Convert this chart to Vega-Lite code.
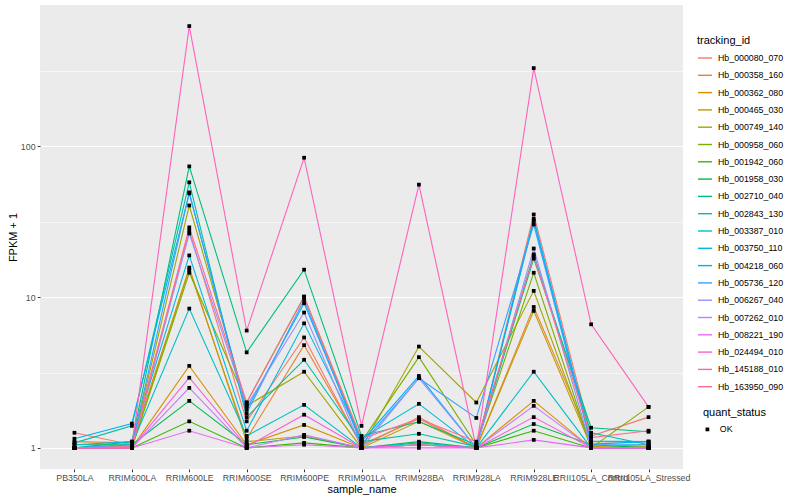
{
  "$schema": "https://vega.github.io/schema/vega-lite/v6.json",
  "autosize": {"type": "none"},
  "padding": {"left": 40, "top": 5, "right": 117, "bottom": 31},
  "width": 643,
  "height": 464,
  "background": "white",
  "config": {
    "font": "Liberation Sans",
    "view": {"fill": "#EBEBEB", "stroke": null},
    "axis": {
      "domain": false,
      "gridColor": "white",
      "labelFontSize": 8.8,
      "labelColor": "#4D4D4D",
      "tickColor": "#333333",
      "tickSize": 2.75,
      "labelPadding": 2.2,
      "titleFontSize": 11,
      "titleFontWeight": "normal",
      "titleColor": "black"
    },
    "legend": {
      "titleFontSize": 11,
      "titleFontWeight": "normal",
      "titleColor": "black",
      "labelFontSize": 8.8,
      "labelColor": "black"
    }
  },
  "data": {
    "values": [
      {"tracking_id": "Hb_000080_070", "sample_name": "PB350LA", "fpkm": 1.26, "quant_status": "OK"},
      {"tracking_id": "Hb_000080_070", "sample_name": "RRIM600LA", "fpkm": 1.05, "quant_status": "OK"},
      {"tracking_id": "Hb_000080_070", "sample_name": "RRIM600LE", "fpkm": 27.7, "quant_status": "OK"},
      {"tracking_id": "Hb_000080_070", "sample_name": "RRIM600SE", "fpkm": 1.5, "quant_status": "OK"},
      {"tracking_id": "Hb_000080_070", "sample_name": "RRIM600PE", "fpkm": 5.4, "quant_status": "OK"},
      {"tracking_id": "Hb_000080_070", "sample_name": "RRIM901LA", "fpkm": 1.02, "quant_status": "OK"},
      {"tracking_id": "Hb_000080_070", "sample_name": "RRIM928BA", "fpkm": 1.6, "quant_status": "OK"},
      {"tracking_id": "Hb_000080_070", "sample_name": "RRIM928LA", "fpkm": 1.0, "quant_status": "OK"},
      {"tracking_id": "Hb_000080_070", "sample_name": "RRIM928LE", "fpkm": 35.3, "quant_status": "OK"},
      {"tracking_id": "Hb_000080_070", "sample_name": "RRII105LA_Control", "fpkm": 1.2, "quant_status": "OK"},
      {"tracking_id": "Hb_000080_070", "sample_name": "RRII105LA_Stressed", "fpkm": 1.6, "quant_status": "OK"},

      {"tracking_id": "Hb_000358_160", "sample_name": "PB350LA", "fpkm": 1.1, "quant_status": "OK"},
      {"tracking_id": "Hb_000358_160", "sample_name": "RRIM600LA", "fpkm": 1.08, "quant_status": "OK"},
      {"tracking_id": "Hb_000358_160", "sample_name": "RRIM600LE", "fpkm": 15.2, "quant_status": "OK"},
      {"tracking_id": "Hb_000358_160", "sample_name": "RRIM600SE", "fpkm": 1.15, "quant_status": "OK"},
      {"tracking_id": "Hb_000358_160", "sample_name": "RRIM600PE", "fpkm": 4.8, "quant_status": "OK"},
      {"tracking_id": "Hb_000358_160", "sample_name": "RRIM901LA", "fpkm": 1.05, "quant_status": "OK"},
      {"tracking_id": "Hb_000358_160", "sample_name": "RRIM928BA", "fpkm": 1.56, "quant_status": "OK"},
      {"tracking_id": "Hb_000358_160", "sample_name": "RRIM928LA", "fpkm": 1.0, "quant_status": "OK"},
      {"tracking_id": "Hb_000358_160", "sample_name": "RRIM928LE", "fpkm": 8.6, "quant_status": "OK"},
      {"tracking_id": "Hb_000358_160", "sample_name": "RRII105LA_Control", "fpkm": 1.1, "quant_status": "OK"},
      {"tracking_id": "Hb_000358_160", "sample_name": "RRII105LA_Stressed", "fpkm": 1.1, "quant_status": "OK"},

      {"tracking_id": "Hb_000362_080", "sample_name": "PB350LA", "fpkm": 1.0, "quant_status": "OK"},
      {"tracking_id": "Hb_000362_080", "sample_name": "RRIM600LA", "fpkm": 1.0, "quant_status": "OK"},
      {"tracking_id": "Hb_000362_080", "sample_name": "RRIM600LE", "fpkm": 3.5, "quant_status": "OK"},
      {"tracking_id": "Hb_000362_080", "sample_name": "RRIM600SE", "fpkm": 1.05, "quant_status": "OK"},
      {"tracking_id": "Hb_000362_080", "sample_name": "RRIM600PE", "fpkm": 1.42, "quant_status": "OK"},
      {"tracking_id": "Hb_000362_080", "sample_name": "RRIM901LA", "fpkm": 1.0, "quant_status": "OK"},
      {"tracking_id": "Hb_000362_080", "sample_name": "RRIM928BA", "fpkm": 1.05, "quant_status": "OK"},
      {"tracking_id": "Hb_000362_080", "sample_name": "RRIM928LA", "fpkm": 1.0, "quant_status": "OK"},
      {"tracking_id": "Hb_000362_080", "sample_name": "RRIM928LE", "fpkm": 2.05, "quant_status": "OK"},
      {"tracking_id": "Hb_000362_080", "sample_name": "RRII105LA_Control", "fpkm": 1.0, "quant_status": "OK"},
      {"tracking_id": "Hb_000362_080", "sample_name": "RRII105LA_Stressed", "fpkm": 1.0, "quant_status": "OK"},

      {"tracking_id": "Hb_000465_030", "sample_name": "PB350LA", "fpkm": 1.0, "quant_status": "OK"},
      {"tracking_id": "Hb_000465_030", "sample_name": "RRIM600LA", "fpkm": 1.0, "quant_status": "OK"},
      {"tracking_id": "Hb_000465_030", "sample_name": "RRIM600LE", "fpkm": 15.7, "quant_status": "OK"},
      {"tracking_id": "Hb_000465_030", "sample_name": "RRIM600SE", "fpkm": 1.1, "quant_status": "OK"},
      {"tracking_id": "Hb_000465_030", "sample_name": "RRIM600PE", "fpkm": 1.2, "quant_status": "OK"},
      {"tracking_id": "Hb_000465_030", "sample_name": "RRIM901LA", "fpkm": 1.0, "quant_status": "OK"},
      {"tracking_id": "Hb_000465_030", "sample_name": "RRIM928BA", "fpkm": 1.5, "quant_status": "OK"},
      {"tracking_id": "Hb_000465_030", "sample_name": "RRIM928LA", "fpkm": 1.0, "quant_status": "OK"},
      {"tracking_id": "Hb_000465_030", "sample_name": "RRIM928LE", "fpkm": 8.1, "quant_status": "OK"},
      {"tracking_id": "Hb_000465_030", "sample_name": "RRII105LA_Control", "fpkm": 1.02, "quant_status": "OK"},
      {"tracking_id": "Hb_000465_030", "sample_name": "RRII105LA_Stressed", "fpkm": 1.05, "quant_status": "OK"},

      {"tracking_id": "Hb_000749_140", "sample_name": "PB350LA", "fpkm": 1.0, "quant_status": "OK"},
      {"tracking_id": "Hb_000749_140", "sample_name": "RRIM600LA", "fpkm": 1.02, "quant_status": "OK"},
      {"tracking_id": "Hb_000749_140", "sample_name": "RRIM600LE", "fpkm": 40.5, "quant_status": "OK"},
      {"tracking_id": "Hb_000749_140", "sample_name": "RRIM600SE", "fpkm": 1.9, "quant_status": "OK"},
      {"tracking_id": "Hb_000749_140", "sample_name": "RRIM600PE", "fpkm": 3.2, "quant_status": "OK"},
      {"tracking_id": "Hb_000749_140", "sample_name": "RRIM901LA", "fpkm": 1.0, "quant_status": "OK"},
      {"tracking_id": "Hb_000749_140", "sample_name": "RRIM928BA", "fpkm": 4.7, "quant_status": "OK"},
      {"tracking_id": "Hb_000749_140", "sample_name": "RRIM928LA", "fpkm": 2.0, "quant_status": "OK"},
      {"tracking_id": "Hb_000749_140", "sample_name": "RRIM928LE", "fpkm": 11, "quant_status": "OK"},
      {"tracking_id": "Hb_000749_140", "sample_name": "RRII105LA_Control", "fpkm": 1.0, "quant_status": "OK"},
      {"tracking_id": "Hb_000749_140", "sample_name": "RRII105LA_Stressed", "fpkm": 1.02, "quant_status": "OK"},

      {"tracking_id": "Hb_000958_060", "sample_name": "PB350LA", "fpkm": 1.0, "quant_status": "OK"},
      {"tracking_id": "Hb_000958_060", "sample_name": "RRIM600LA", "fpkm": 1.0, "quant_status": "OK"},
      {"tracking_id": "Hb_000958_060", "sample_name": "RRIM600LE", "fpkm": 14.5, "quant_status": "OK"},
      {"tracking_id": "Hb_000958_060", "sample_name": "RRIM600SE", "fpkm": 2.0, "quant_status": "OK"},
      {"tracking_id": "Hb_000958_060", "sample_name": "RRIM600PE", "fpkm": 10.1, "quant_status": "OK"},
      {"tracking_id": "Hb_000958_060", "sample_name": "RRIM901LA", "fpkm": 1.1, "quant_status": "OK"},
      {"tracking_id": "Hb_000958_060", "sample_name": "RRIM928BA", "fpkm": 4.0, "quant_status": "OK"},
      {"tracking_id": "Hb_000958_060", "sample_name": "RRIM928LA", "fpkm": 1.05, "quant_status": "OK"},
      {"tracking_id": "Hb_000958_060", "sample_name": "RRIM928LE", "fpkm": 14.5, "quant_status": "OK"},
      {"tracking_id": "Hb_000958_060", "sample_name": "RRII105LA_Control", "fpkm": 1.0, "quant_status": "OK"},
      {"tracking_id": "Hb_000958_060", "sample_name": "RRII105LA_Stressed", "fpkm": 1.87, "quant_status": "OK"},

      {"tracking_id": "Hb_001942_060", "sample_name": "PB350LA", "fpkm": 1.0, "quant_status": "OK"},
      {"tracking_id": "Hb_001942_060", "sample_name": "RRIM600LA", "fpkm": 1.0, "quant_status": "OK"},
      {"tracking_id": "Hb_001942_060", "sample_name": "RRIM600LE", "fpkm": 1.5, "quant_status": "OK"},
      {"tracking_id": "Hb_001942_060", "sample_name": "RRIM600SE", "fpkm": 1.0, "quant_status": "OK"},
      {"tracking_id": "Hb_001942_060", "sample_name": "RRIM600PE", "fpkm": 1.08, "quant_status": "OK"},
      {"tracking_id": "Hb_001942_060", "sample_name": "RRIM901LA", "fpkm": 1.0, "quant_status": "OK"},
      {"tracking_id": "Hb_001942_060", "sample_name": "RRIM928BA", "fpkm": 1.05, "quant_status": "OK"},
      {"tracking_id": "Hb_001942_060", "sample_name": "RRIM928LA", "fpkm": 1.0, "quant_status": "OK"},
      {"tracking_id": "Hb_001942_060", "sample_name": "RRIM928LE", "fpkm": 1.3, "quant_status": "OK"},
      {"tracking_id": "Hb_001942_060", "sample_name": "RRII105LA_Control", "fpkm": 1.0, "quant_status": "OK"},
      {"tracking_id": "Hb_001942_060", "sample_name": "RRII105LA_Stressed", "fpkm": 1.0, "quant_status": "OK"},

      {"tracking_id": "Hb_001958_030", "sample_name": "PB350LA", "fpkm": 1.05, "quant_status": "OK"},
      {"tracking_id": "Hb_001958_030", "sample_name": "RRIM600LA", "fpkm": 1.05, "quant_status": "OK"},
      {"tracking_id": "Hb_001958_030", "sample_name": "RRIM600LE", "fpkm": 2.05, "quant_status": "OK"},
      {"tracking_id": "Hb_001958_030", "sample_name": "RRIM600SE", "fpkm": 1.05, "quant_status": "OK"},
      {"tracking_id": "Hb_001958_030", "sample_name": "RRIM600PE", "fpkm": 1.18, "quant_status": "OK"},
      {"tracking_id": "Hb_001958_030", "sample_name": "RRIM901LA", "fpkm": 1.0, "quant_status": "OK"},
      {"tracking_id": "Hb_001958_030", "sample_name": "RRIM928BA", "fpkm": 1.1, "quant_status": "OK"},
      {"tracking_id": "Hb_001958_030", "sample_name": "RRIM928LA", "fpkm": 1.0, "quant_status": "OK"},
      {"tracking_id": "Hb_001958_030", "sample_name": "RRIM928LE", "fpkm": 1.44, "quant_status": "OK"},
      {"tracking_id": "Hb_001958_030", "sample_name": "RRII105LA_Control", "fpkm": 1.05, "quant_status": "OK"},
      {"tracking_id": "Hb_001958_030", "sample_name": "RRII105LA_Stressed", "fpkm": 1.0, "quant_status": "OK"},

      {"tracking_id": "Hb_002710_040", "sample_name": "PB350LA", "fpkm": 1.0, "quant_status": "OK"},
      {"tracking_id": "Hb_002710_040", "sample_name": "RRIM600LA", "fpkm": 1.1, "quant_status": "OK"},
      {"tracking_id": "Hb_002710_040", "sample_name": "RRIM600LE", "fpkm": 73.6, "quant_status": "OK"},
      {"tracking_id": "Hb_002710_040", "sample_name": "RRIM600SE", "fpkm": 4.3, "quant_status": "OK"},
      {"tracking_id": "Hb_002710_040", "sample_name": "RRIM600PE", "fpkm": 15.2, "quant_status": "OK"},
      {"tracking_id": "Hb_002710_040", "sample_name": "RRIM901LA", "fpkm": 1.2, "quant_status": "OK"},
      {"tracking_id": "Hb_002710_040", "sample_name": "RRIM928BA", "fpkm": 1.49, "quant_status": "OK"},
      {"tracking_id": "Hb_002710_040", "sample_name": "RRIM928LA", "fpkm": 1.05, "quant_status": "OK"},
      {"tracking_id": "Hb_002710_040", "sample_name": "RRIM928LE", "fpkm": 18.0, "quant_status": "OK"},
      {"tracking_id": "Hb_002710_040", "sample_name": "RRII105LA_Control", "fpkm": 1.36, "quant_status": "OK"},
      {"tracking_id": "Hb_002710_040", "sample_name": "RRII105LA_Stressed", "fpkm": 1.28, "quant_status": "OK"},

      {"tracking_id": "Hb_002843_130", "sample_name": "PB350LA", "fpkm": 1.08, "quant_status": "OK"},
      {"tracking_id": "Hb_002843_130", "sample_name": "RRIM600LA", "fpkm": 1.4, "quant_status": "OK"},
      {"tracking_id": "Hb_002843_130", "sample_name": "RRIM600LE", "fpkm": 57.7, "quant_status": "OK"},
      {"tracking_id": "Hb_002843_130", "sample_name": "RRIM600SE", "fpkm": 1.6, "quant_status": "OK"},
      {"tracking_id": "Hb_002843_130", "sample_name": "RRIM600PE", "fpkm": 3.84, "quant_status": "OK"},
      {"tracking_id": "Hb_002843_130", "sample_name": "RRIM901LA", "fpkm": 1.1, "quant_status": "OK"},
      {"tracking_id": "Hb_002843_130", "sample_name": "RRIM928BA", "fpkm": 1.24, "quant_status": "OK"},
      {"tracking_id": "Hb_002843_130", "sample_name": "RRIM928LA", "fpkm": 1.02, "quant_status": "OK"},
      {"tracking_id": "Hb_002843_130", "sample_name": "RRIM928LE", "fpkm": 19.2, "quant_status": "OK"},
      {"tracking_id": "Hb_002843_130", "sample_name": "RRII105LA_Control", "fpkm": 1.26, "quant_status": "OK"},
      {"tracking_id": "Hb_002843_130", "sample_name": "RRII105LA_Stressed", "fpkm": 1.05, "quant_status": "OK"},

      {"tracking_id": "Hb_003387_010", "sample_name": "PB350LA", "fpkm": 1.0, "quant_status": "OK"},
      {"tracking_id": "Hb_003387_010", "sample_name": "RRIM600LA", "fpkm": 1.05, "quant_status": "OK"},
      {"tracking_id": "Hb_003387_010", "sample_name": "RRIM600LE", "fpkm": 8.39, "quant_status": "OK"},
      {"tracking_id": "Hb_003387_010", "sample_name": "RRIM600SE", "fpkm": 1.2, "quant_status": "OK"},
      {"tracking_id": "Hb_003387_010", "sample_name": "RRIM600PE", "fpkm": 1.93, "quant_status": "OK"},
      {"tracking_id": "Hb_003387_010", "sample_name": "RRIM901LA", "fpkm": 1.0, "quant_status": "OK"},
      {"tracking_id": "Hb_003387_010", "sample_name": "RRIM928BA", "fpkm": 1.08, "quant_status": "OK"},
      {"tracking_id": "Hb_003387_010", "sample_name": "RRIM928LA", "fpkm": 1.0, "quant_status": "OK"},
      {"tracking_id": "Hb_003387_010", "sample_name": "RRIM928LE", "fpkm": 3.2, "quant_status": "OK"},
      {"tracking_id": "Hb_003387_010", "sample_name": "RRII105LA_Control", "fpkm": 1.0, "quant_status": "OK"},
      {"tracking_id": "Hb_003387_010", "sample_name": "RRII105LA_Stressed", "fpkm": 1.0, "quant_status": "OK"},

      {"tracking_id": "Hb_003750_110", "sample_name": "PB350LA", "fpkm": 1.05, "quant_status": "OK"},
      {"tracking_id": "Hb_003750_110", "sample_name": "RRIM600LA", "fpkm": 1.1, "quant_status": "OK"},
      {"tracking_id": "Hb_003750_110", "sample_name": "RRIM600LE", "fpkm": 18.9, "quant_status": "OK"},
      {"tracking_id": "Hb_003750_110", "sample_name": "RRIM600SE", "fpkm": 1.3, "quant_status": "OK"},
      {"tracking_id": "Hb_003750_110", "sample_name": "RRIM600PE", "fpkm": 6.7, "quant_status": "OK"},
      {"tracking_id": "Hb_003750_110", "sample_name": "RRIM901LA", "fpkm": 1.15, "quant_status": "OK"},
      {"tracking_id": "Hb_003750_110", "sample_name": "RRIM928BA", "fpkm": 1.96, "quant_status": "OK"},
      {"tracking_id": "Hb_003750_110", "sample_name": "RRIM928LA", "fpkm": 1.0, "quant_status": "OK"},
      {"tracking_id": "Hb_003750_110", "sample_name": "RRIM928LE", "fpkm": 33, "quant_status": "OK"},
      {"tracking_id": "Hb_003750_110", "sample_name": "RRII105LA_Control", "fpkm": 1.11, "quant_status": "OK"},
      {"tracking_id": "Hb_003750_110", "sample_name": "RRII105LA_Stressed", "fpkm": 1.1, "quant_status": "OK"},

      {"tracking_id": "Hb_004218_060", "sample_name": "PB350LA", "fpkm": 1.15, "quant_status": "OK"},
      {"tracking_id": "Hb_004218_060", "sample_name": "RRIM600LA", "fpkm": 1.45, "quant_status": "OK"},
      {"tracking_id": "Hb_004218_060", "sample_name": "RRIM600LE", "fpkm": 48.7, "quant_status": "OK"},
      {"tracking_id": "Hb_004218_060", "sample_name": "RRIM600SE", "fpkm": 1.8, "quant_status": "OK"},
      {"tracking_id": "Hb_004218_060", "sample_name": "RRIM600PE", "fpkm": 9.1, "quant_status": "OK"},
      {"tracking_id": "Hb_004218_060", "sample_name": "RRIM901LA", "fpkm": 1.1, "quant_status": "OK"},
      {"tracking_id": "Hb_004218_060", "sample_name": "RRIM928BA", "fpkm": 3.0, "quant_status": "OK"},
      {"tracking_id": "Hb_004218_060", "sample_name": "RRIM928LA", "fpkm": 1.0, "quant_status": "OK"},
      {"tracking_id": "Hb_004218_060", "sample_name": "RRIM928LE", "fpkm": 32, "quant_status": "OK"},
      {"tracking_id": "Hb_004218_060", "sample_name": "RRII105LA_Control", "fpkm": 1.06, "quant_status": "OK"},
      {"tracking_id": "Hb_004218_060", "sample_name": "RRII105LA_Stressed", "fpkm": 1.1, "quant_status": "OK"},

      {"tracking_id": "Hb_005736_120", "sample_name": "PB350LA", "fpkm": 1.0, "quant_status": "OK"},
      {"tracking_id": "Hb_005736_120", "sample_name": "RRIM600LA", "fpkm": 1.05, "quant_status": "OK"},
      {"tracking_id": "Hb_005736_120", "sample_name": "RRIM600LE", "fpkm": 49.5, "quant_status": "OK"},
      {"tracking_id": "Hb_005736_120", "sample_name": "RRIM600SE", "fpkm": 1.7, "quant_status": "OK"},
      {"tracking_id": "Hb_005736_120", "sample_name": "RRIM600PE", "fpkm": 9.6, "quant_status": "OK"},
      {"tracking_id": "Hb_005736_120", "sample_name": "RRIM901LA", "fpkm": 1.05, "quant_status": "OK"},
      {"tracking_id": "Hb_005736_120", "sample_name": "RRIM928BA", "fpkm": 2.9, "quant_status": "OK"},
      {"tracking_id": "Hb_005736_120", "sample_name": "RRIM928LA", "fpkm": 1.58, "quant_status": "OK"},
      {"tracking_id": "Hb_005736_120", "sample_name": "RRIM928LE", "fpkm": 30.3, "quant_status": "OK"},
      {"tracking_id": "Hb_005736_120", "sample_name": "RRII105LA_Control", "fpkm": 1.05, "quant_status": "OK"},
      {"tracking_id": "Hb_005736_120", "sample_name": "RRII105LA_Stressed", "fpkm": 1.05, "quant_status": "OK"},

      {"tracking_id": "Hb_006267_040", "sample_name": "PB350LA", "fpkm": 1.0, "quant_status": "OK"},
      {"tracking_id": "Hb_006267_040", "sample_name": "RRIM600LA", "fpkm": 1.0, "quant_status": "OK"},
      {"tracking_id": "Hb_006267_040", "sample_name": "RRIM600LE", "fpkm": 26.4, "quant_status": "OK"},
      {"tracking_id": "Hb_006267_040", "sample_name": "RRIM600SE", "fpkm": 1.9, "quant_status": "OK"},
      {"tracking_id": "Hb_006267_040", "sample_name": "RRIM600PE", "fpkm": 7.9, "quant_status": "OK"},
      {"tracking_id": "Hb_006267_040", "sample_name": "RRIM901LA", "fpkm": 1.0, "quant_status": "OK"},
      {"tracking_id": "Hb_006267_040", "sample_name": "RRIM928BA", "fpkm": 2.9, "quant_status": "OK"},
      {"tracking_id": "Hb_006267_040", "sample_name": "RRIM928LA", "fpkm": 1.0, "quant_status": "OK"},
      {"tracking_id": "Hb_006267_040", "sample_name": "RRIM928LE", "fpkm": 21, "quant_status": "OK"},
      {"tracking_id": "Hb_006267_040", "sample_name": "RRII105LA_Control", "fpkm": 1.0, "quant_status": "OK"},
      {"tracking_id": "Hb_006267_040", "sample_name": "RRII105LA_Stressed", "fpkm": 1.0, "quant_status": "OK"},

      {"tracking_id": "Hb_007262_010", "sample_name": "PB350LA", "fpkm": 1.0, "quant_status": "OK"},
      {"tracking_id": "Hb_007262_010", "sample_name": "RRIM600LA", "fpkm": 1.0, "quant_status": "OK"},
      {"tracking_id": "Hb_007262_010", "sample_name": "RRIM600LE", "fpkm": 2.5, "quant_status": "OK"},
      {"tracking_id": "Hb_007262_010", "sample_name": "RRIM600SE", "fpkm": 1.0, "quant_status": "OK"},
      {"tracking_id": "Hb_007262_010", "sample_name": "RRIM600PE", "fpkm": 1.22, "quant_status": "OK"},
      {"tracking_id": "Hb_007262_010", "sample_name": "RRIM901LA", "fpkm": 1.0, "quant_status": "OK"},
      {"tracking_id": "Hb_007262_010", "sample_name": "RRIM928BA", "fpkm": 1.05, "quant_status": "OK"},
      {"tracking_id": "Hb_007262_010", "sample_name": "RRIM928LA", "fpkm": 1.0, "quant_status": "OK"},
      {"tracking_id": "Hb_007262_010", "sample_name": "RRIM928LE", "fpkm": 1.9, "quant_status": "OK"},
      {"tracking_id": "Hb_007262_010", "sample_name": "RRII105LA_Control", "fpkm": 1.0, "quant_status": "OK"},
      {"tracking_id": "Hb_007262_010", "sample_name": "RRII105LA_Stressed", "fpkm": 1.0, "quant_status": "OK"},

      {"tracking_id": "Hb_008221_190", "sample_name": "PB350LA", "fpkm": 1.0, "quant_status": "OK"},
      {"tracking_id": "Hb_008221_190", "sample_name": "RRIM600LA", "fpkm": 1.0, "quant_status": "OK"},
      {"tracking_id": "Hb_008221_190", "sample_name": "RRIM600LE", "fpkm": 1.3, "quant_status": "OK"},
      {"tracking_id": "Hb_008221_190", "sample_name": "RRIM600SE", "fpkm": 1.0, "quant_status": "OK"},
      {"tracking_id": "Hb_008221_190", "sample_name": "RRIM600PE", "fpkm": 1.05, "quant_status": "OK"},
      {"tracking_id": "Hb_008221_190", "sample_name": "RRIM901LA", "fpkm": 1.0, "quant_status": "OK"},
      {"tracking_id": "Hb_008221_190", "sample_name": "RRIM928BA", "fpkm": 1.0, "quant_status": "OK"},
      {"tracking_id": "Hb_008221_190", "sample_name": "RRIM928LA", "fpkm": 1.0, "quant_status": "OK"},
      {"tracking_id": "Hb_008221_190", "sample_name": "RRIM928LE", "fpkm": 1.13, "quant_status": "OK"},
      {"tracking_id": "Hb_008221_190", "sample_name": "RRII105LA_Control", "fpkm": 1.0, "quant_status": "OK"},
      {"tracking_id": "Hb_008221_190", "sample_name": "RRII105LA_Stressed", "fpkm": 1.0, "quant_status": "OK"},

      {"tracking_id": "Hb_024494_010", "sample_name": "PB350LA", "fpkm": 1.0, "quant_status": "OK"},
      {"tracking_id": "Hb_024494_010", "sample_name": "RRIM600LA", "fpkm": 1.0, "quant_status": "OK"},
      {"tracking_id": "Hb_024494_010", "sample_name": "RRIM600LE", "fpkm": 2.92, "quant_status": "OK"},
      {"tracking_id": "Hb_024494_010", "sample_name": "RRIM600SE", "fpkm": 1.02, "quant_status": "OK"},
      {"tracking_id": "Hb_024494_010", "sample_name": "RRIM600PE", "fpkm": 1.66, "quant_status": "OK"},
      {"tracking_id": "Hb_024494_010", "sample_name": "RRIM901LA", "fpkm": 1.0, "quant_status": "OK"},
      {"tracking_id": "Hb_024494_010", "sample_name": "RRIM928BA", "fpkm": 1.05, "quant_status": "OK"},
      {"tracking_id": "Hb_024494_010", "sample_name": "RRIM928LA", "fpkm": 1.0, "quant_status": "OK"},
      {"tracking_id": "Hb_024494_010", "sample_name": "RRIM928LE", "fpkm": 1.6, "quant_status": "OK"},
      {"tracking_id": "Hb_024494_010", "sample_name": "RRII105LA_Control", "fpkm": 1.0, "quant_status": "OK"},
      {"tracking_id": "Hb_024494_010", "sample_name": "RRII105LA_Stressed", "fpkm": 1.0, "quant_status": "OK"},

      {"tracking_id": "Hb_145188_010", "sample_name": "PB350LA", "fpkm": 1.0, "quant_status": "OK"},
      {"tracking_id": "Hb_145188_010", "sample_name": "RRIM600LA", "fpkm": 1.02, "quant_status": "OK"},
      {"tracking_id": "Hb_145188_010", "sample_name": "RRIM600LE", "fpkm": 627, "quant_status": "OK"},
      {"tracking_id": "Hb_145188_010", "sample_name": "RRIM600SE", "fpkm": 6.0, "quant_status": "OK"},
      {"tracking_id": "Hb_145188_010", "sample_name": "RRIM600PE", "fpkm": 84, "quant_status": "OK"},
      {"tracking_id": "Hb_145188_010", "sample_name": "RRIM901LA", "fpkm": 1.4, "quant_status": "OK"},
      {"tracking_id": "Hb_145188_010", "sample_name": "RRIM928BA", "fpkm": 55.7, "quant_status": "OK"},
      {"tracking_id": "Hb_145188_010", "sample_name": "RRIM928LA", "fpkm": 1.0, "quant_status": "OK"},
      {"tracking_id": "Hb_145188_010", "sample_name": "RRIM928LE", "fpkm": 330, "quant_status": "OK"},
      {"tracking_id": "Hb_145188_010", "sample_name": "RRII105LA_Control", "fpkm": 6.6, "quant_status": "OK"},
      {"tracking_id": "Hb_145188_010", "sample_name": "RRII105LA_Stressed", "fpkm": 1.87, "quant_status": "OK"},

      {"tracking_id": "Hb_163950_090", "sample_name": "PB350LA", "fpkm": 1.0, "quant_status": "OK"},
      {"tracking_id": "Hb_163950_090", "sample_name": "RRIM600LA", "fpkm": 1.0, "quant_status": "OK"},
      {"tracking_id": "Hb_163950_090", "sample_name": "RRIM600LE", "fpkm": 29, "quant_status": "OK"},
      {"tracking_id": "Hb_163950_090", "sample_name": "RRIM600SE", "fpkm": 2.0, "quant_status": "OK"},
      {"tracking_id": "Hb_163950_090", "sample_name": "RRIM600PE", "fpkm": 10, "quant_status": "OK"},
      {"tracking_id": "Hb_163950_090", "sample_name": "RRIM901LA", "fpkm": 1.15, "quant_status": "OK"},
      {"tracking_id": "Hb_163950_090", "sample_name": "RRIM928BA", "fpkm": 1.56, "quant_status": "OK"},
      {"tracking_id": "Hb_163950_090", "sample_name": "RRIM928LA", "fpkm": 1.1, "quant_status": "OK"},
      {"tracking_id": "Hb_163950_090", "sample_name": "RRIM928LE", "fpkm": 18.6, "quant_status": "OK"},
      {"tracking_id": "Hb_163950_090", "sample_name": "RRII105LA_Control", "fpkm": 1.17, "quant_status": "OK"},
      {"tracking_id": "Hb_163950_090", "sample_name": "RRII105LA_Stressed", "fpkm": 1.3, "quant_status": "OK"}
    ]
  },
  "encoding": {
    "x": {
      "field": "sample_name",
      "type": "nominal",
      "sort": ["PB350LA", "RRIM600LA", "RRIM600LE", "RRIM600SE", "RRIM600PE", "RRIM901LA", "RRIM928BA", "RRIM928LA", "RRIM928LE", "RRII105LA_Control", "RRII105LA_Stressed"],
      "scale": {"type": "point", "padding": 0.6},
      "axis": {
        "title": "sample_name",
        "labelAngle": 0,
        "labelOverlap": false,
        "labelBound": false,
        "labelFlush": false,
        "gridWidth": 1.1,
        "titlePadding": 1
      }
    },
    "y": {
      "field": "fpkm",
      "type": "quantitative",
      "scale": {"type": "log", "domain": [0.7246, 865], "nice": false, "zero": false},
      "axis": {
        "title": "FPKM + 1",
        "values": [1, 3.1623, 10, 31.623, 100, 316.23],
        "labelExpr": "indexof([1, 10, 100], datum.value) >= 0 ? format(datum.value, 'd') : ''",
        "gridWidth": {"condition": {"test": "indexof([1, 10, 100], datum.value) >= 0", "value": 1.1}, "value": 0.55},
        "tickOpacity": {"condition": {"test": "indexof([1, 10, 100], datum.value) >= 0", "value": 1}, "value": 0},
        "titlePadding": 2
      }
    }
  },
  "layer": [
    {
      "mark": {"type": "line", "strokeWidth": 1.1},
      "encoding": {
        "color": {
          "field": "tracking_id",
          "type": "nominal",
          "scale": {
            "domain": ["Hb_000080_070", "Hb_000358_160", "Hb_000362_080", "Hb_000465_030", "Hb_000749_140", "Hb_000958_060", "Hb_001942_060", "Hb_001958_030", "Hb_002710_040", "Hb_002843_130", "Hb_003387_010", "Hb_003750_110", "Hb_004218_060", "Hb_005736_120", "Hb_006267_040", "Hb_007262_010", "Hb_008221_190", "Hb_024494_010", "Hb_145188_010", "Hb_163950_090"],
            "range": ["#F8766D", "#EA8331", "#D89000", "#C09B00", "#A3A500", "#7CAE00", "#39B600", "#00BB4E", "#00BF7D", "#00C1A3", "#00BFC4", "#00BAE0", "#00B0F6", "#35A2FF", "#9590FF", "#C77CFF", "#E76BF3", "#FA62DB", "#FF62BC", "#FF6C91"]
          },
          "legend": {
            "title": "tracking_id",
            "orient": "none",
            "legendX": 657,
            "legendY": 30,
            "symbolType": "stroke",
            "symbolSize": 196,
            "symbolStrokeWidth": 1.4,
            "rowPadding": 4.3,
            "labelOffset": 5,
            "titlePadding": 4
          }
        }
      }
    },
    {
      "mark": {"type": "point", "filled": true, "size": 14, "color": "black", "opacity": 1},
      "encoding": {
        "shape": {
          "field": "quant_status",
          "type": "nominal",
          "scale": {"domain": ["OK"], "range": ["square"]},
          "legend": {
            "title": "quant_status",
            "orient": "none",
            "legendX": 663,
            "legendY": 402,
            "symbolSize": 14,
            "labelOffset": 8,
            "titlePadding": 7
          }
        }
      }
    }
  ]
}
